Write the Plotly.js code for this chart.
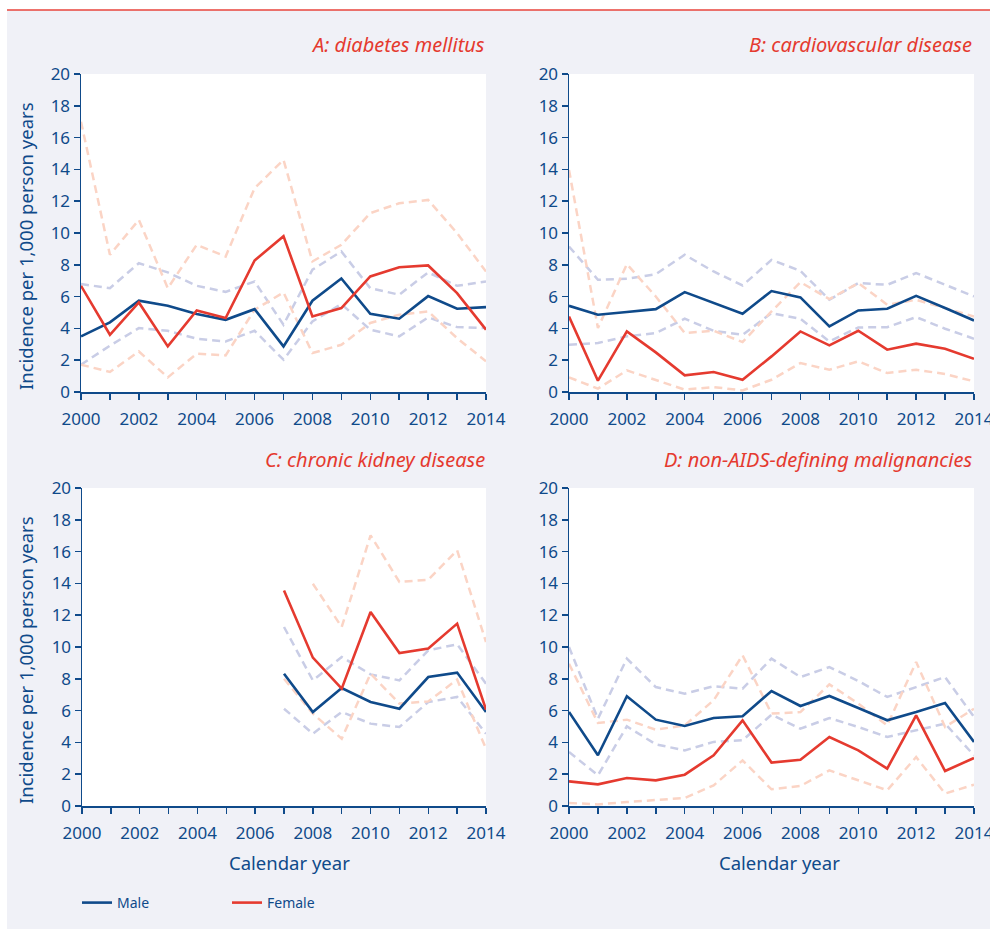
<!DOCTYPE html>
<html>
<head>
<meta charset="utf-8">
<script src="https://cdn.plot.ly/plotly-3.0.1.min.js"></script>
<style>html,body{margin:0;padding:0;background:#fff;}#chart{width:990px;height:931px;}</style>
</head>
<body>
<div id="chart"></div>
<script>
// ---- data ----
var years = [2000,2001,2002,2003,2004,2005,2006,2007,2008,2009,2010,2011,2012,2013,2014];
var xTickText = ['2000','','2002','','2004','','2006','','2008','','2010','','2012','','2014'];
var yTickVals = [0,2,4,6,8,10,12,14,16,18,20];
var panelTitles = ['A: diabetes mellitus','B: cardiovascular disease','C: chronic kidney disease','D: non-AIDS-defining malignancies'];
var seriesNames = ['Male','Female'];
var yTitle = 'Incidence per 1,000 person years';
var xTitle = 'Calendar year';

// A: diabetes mellitus
var A_male    = [3.5,4.38,5.74,5.42,4.9,4.54,5.21,2.87,5.74,7.14,4.92,4.61,6.03,5.24,5.34];
var A_female  = [6.68,3.6,5.63,2.87,5.13,4.65,8.27,9.8,4.75,5.28,7.27,7.85,7.96,6.22,3.92];
var A_maleHi  = [6.79,6.53,8.1,7.52,6.68,6.3,6.95,4.23,7.69,8.84,6.53,6.12,7.52,6.68,6.95];
var A_maleLo  = [1.72,2.91,4.02,3.85,3.35,3.18,3.85,2.03,4.44,5.53,3.92,3.5,4.69,4.08,4.02];
var A_femHi   = [17.0,8.63,10.83,6.53,9.26,8.52,12.82,14.6,8.21,9.26,11.25,11.87,12.08,9.99,7.58];
var A_femLo   = [1.72,1.26,2.55,0.92,2.41,2.3,5.17,6.26,2.45,2.97,4.34,4.86,5.07,3.39,1.93];

// B: cardiovascular disease
var B_male    = [5.42,4.86,5.03,5.21,6.28,5.59,4.92,6.35,5.95,4.13,5.13,5.24,6.05,5.28,4.5];
var B_female  = [4.75,0.71,3.81,2.49,1.05,1.26,0.77,2.24,3.81,2.93,3.85,2.66,3.04,2.72,2.09];
var B_maleHi  = [9.15,7.06,7.12,7.41,8.63,7.58,6.7,8.31,7.62,5.8,6.85,6.74,7.48,6.74,6.01];
var B_maleLo  = [2.97,3.08,3.5,3.71,4.61,3.85,3.6,4.96,4.61,3.18,4.06,4.08,4.71,3.98,3.35];
var B_femHi   = [13.97,4.02,8.04,6.01,3.71,3.85,3.14,5.07,6.91,5.84,6.85,5.49,5.8,5.28,4.75];
var B_femLo   = [0.92,0.21,1.36,0.77,0.15,0.31,0.1,0.77,1.82,1.4,1.93,1.19,1.4,1.13,0.67];

// C: chronic kidney disease
var C_male    = [null,null,null,null,null,null,null,8.32,5.91,7.42,6.54,6.12,8.11,8.39,5.91];
var C_female  = [null,null,null,null,null,null,null,13.56,9.33,7.38,12.2,9.62,9.9,11.47,6.06];
var C_maleHi  = [null,null,null,null,null,null,null,11.26,7.9,9.37,8.28,7.9,9.79,10.17,7.69];
var C_maleLo  = [null,null,null,null,null,null,null,6.12,4.55,5.91,5.18,4.97,6.54,6.86,4.55];
var C_femHi   = [null,null,null,null,null,null,null,null,13.98,11.26,17.02,14.09,14.23,16.08,10.31];
var C_femLo   = [null,null,null,null,null,null,null,8.0,5.81,4.23,8.32,6.44,6.58,7.95,3.6];

// D: non-AIDS-defining malignancies
var D_male    = [5.91,3.19,6.9,5.43,5.03,5.53,5.64,7.23,6.29,6.92,6.16,5.39,5.91,6.48,4.03];
var D_female  = [1.55,1.36,1.76,1.61,1.97,3.19,5.39,2.73,2.91,4.34,3.5,2.35,5.7,2.2,3.02];
var D_maleHi  = [10.0,5.49,9.27,7.48,7.06,7.53,7.38,9.27,8.11,8.74,7.86,6.86,7.48,8.11,5.6];
var D_maleLo  = [3.4,1.93,5.01,3.88,3.5,4.03,4.13,5.74,4.86,5.53,4.97,4.34,4.76,5.18,3.19];
var D_femHi   = [8.95,5.22,5.43,4.8,5.07,6.65,9.48,5.81,5.91,7.65,6.44,5.07,9.06,4.97,6.12];
var D_femLo   = [0.19,0.1,0.25,0.36,0.5,1.3,2.87,1.05,1.26,2.24,1.61,0.99,3.08,0.78,1.34];

// ---- styling ----
var W = 990, H = 931;
var FONT = 'Noto Sans, Open Sans, sans-serif';
var NAVY = '#0f4a8a';
var RED = '#e53a2f';
var MALE_CI = '#c9cde6';
var FEM_CI = '#fbd4c5';
var BG = '#f0f1f7';

var panels = [
  {male:A_male, female:A_female, mHi:A_maleHi, mLo:A_maleLo, fHi:A_femHi, fLo:A_femLo},
  {male:B_male, female:B_female, mHi:B_maleHi, mLo:B_maleLo, fHi:B_femHi, fLo:B_femLo},
  {male:C_male, female:C_female, mHi:C_maleHi, mLo:C_maleLo, fHi:C_femHi, fLo:C_femLo},
  {male:D_male, female:D_female, mHi:D_maleHi, mLo:D_maleLo, fHi:D_femHi, fLo:D_femLo}
];

// pixel boxes [x0,x1,yTop,yBottom]
var boxes = [[81,486,74,392],[569,974,74,392],[82,486,488,806],[569,974,488,806]];

var data = [];
var layout = {
  width: W, height: H,
  margin: {l:0,r:0,t:0,b:0},
  paper_bgcolor: BG,
  plot_bgcolor: '#ffffff',
  font: {family: FONT, color: NAVY},
  showlegend: true,
  legend: {orientation:'h', x: 77/W, xanchor:'left', y: 1-903/H, yanchor:'middle',
           font:{family:FONT, size:14, color:NAVY}, bgcolor:'rgba(0,0,0,0)',
           entrywidth: 105, entrywidthmode:'pixels', traceorder:'normal'},
  annotations: [],
  shapes: [
    {type:'rect', xref:'paper', yref:'paper', x0:0, x1:1, y0:1-10/H, y1:1, fillcolor:'#ffffff', line:{width:0}, layer:'below'},
    {type:'rect', xref:'paper', yref:'paper', x0:0, x1:7/W, y0:0, y1:1, fillcolor:'#ffffff', line:{width:0}, layer:'below'},
    {type:'rect', xref:'paper', yref:'paper', x0:0, x1:1, y0:0, y1:2/H, fillcolor:'#ffffff', line:{width:0}, layer:'below'},
    {type:'line', xref:'paper', yref:'paper', x0:7/W, x1:1, y0:1-10/H, y1:1-10/H, line:{color:'#e8453c', width:1.5}}
  ]
};

panels.forEach(function(p, i){
  var n = i+1;
  var xa = 'x'+(n===1?'':n), ya = 'y'+(n===1?'':n);
  function tr(y, color, dash, width, name, legend){
    return {x: years, y: y, type:'scatter', mode:'lines', xaxis:xa, yaxis:ya,
            line:{color:color, width:width, dash:dash}, connectgaps:false,
            name:name, showlegend:legend, hoverinfo:'skip'};
  }
  data.push(tr(p.mHi, MALE_CI, '8px,5px', 2.5, 'Male upper', false));
  data.push(tr(p.mLo, MALE_CI, '8px,5px', 2.5, 'Male lower', false));
  data.push(tr(p.fHi, FEM_CI, '8px,5px', 2.5, 'Female upper', false));
  data.push(tr(p.fLo, FEM_CI, '8px,5px', 2.5, 'Female lower', false));
  data.push(tr(p.male, NAVY, 'solid', 2.6, seriesNames[0], n===1));
  data.push(tr(p.female, RED, 'solid', 2.6, seriesNames[1], n===1));

  var b = boxes[i];
  var xKey = 'xaxis'+(n===1?'':n), yKey = 'yaxis'+(n===1?'':n);
  layout[xKey] = {
    domain:[b[0]/W, b[1]/W], anchor: ya, range:[2000,2014], fixedrange:true,
    tickmode:'array', tickvals: years, ticktext: xTickText,
    ticks:'outside', ticklen:6, tickwidth:1.5, tickcolor:NAVY,
    showline:true, linecolor:NAVY, linewidth:1.5, showgrid:false, zeroline:false,
    tickfont:{family:FONT, size:17, color:NAVY}, ticklabelstandoff:5,
    ticklabeloverflow:'allow', automargin:false
  };
  layout[yKey] = {
    domain:[1-b[3]/H, 1-b[2]/H], anchor: xa, range:[0,20], fixedrange:true,
    tickmode:'array', tickvals: yTickVals,
    ticks:'outside', ticklen:6, tickwidth:1.5, tickcolor:NAVY,
    showline:true, linecolor:NAVY, linewidth:1.5, showgrid:false, zeroline:false,
    tickfont:{family:FONT, size:17, color:NAVY}, automargin:false
  };
  // panel title
  layout.annotations.push({xref:'paper', yref:'paper', x: (i%2===0?487:974)/W, xanchor:'right',
    y: 1-(i<2?44:459)/H, yanchor:'middle', showarrow:false,
    text:'<i>'+panelTitles[i]+'</i>', font:{family:FONT, size:20, color:RED}});
});

// y titles
[246, 660].forEach(function(cy){
  layout.annotations.push({xref:'paper', yref:'paper', x:25/W, y:1-cy/H, xanchor:'center', yanchor:'middle',
    textangle:-90, showarrow:false, text:yTitle, font:{family:FONT, size:18.5, color:NAVY}});
});
// x titles
[289, 779].forEach(function(cx){
  layout.annotations.push({xref:'paper', yref:'paper', x:cx/W, y:1-862/H, xanchor:'center', yanchor:'middle',
    showarrow:false, text:xTitle, font:{family:FONT, size:18.5, color:NAVY}});
});

Plotly.newPlot('chart', data, layout, {staticPlot:true, displayModeBar:false});
</script>
</body>
</html>
